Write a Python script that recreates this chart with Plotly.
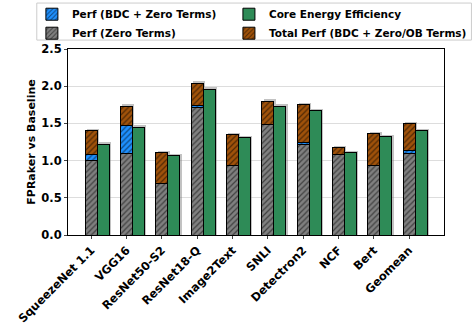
import plotly.graph_objects as go

# Benchmarks and measured speedups / efficiency relative to baseline
models = ["SqueezeNet 1.1", "VGG16", "ResNet50-S2", "ResNet18-Q", "Image2Text",
          "SNLI", "Detectron2", "NCF", "Bert", "Geomean"]
perf_zero = [1.00, 1.10, 0.69, 1.72, 0.94, 1.49, 1.21, 1.08, 0.93, 1.09]
perf_bdc_zero = [1.08, 1.475, 0.69, 1.74, 0.94, 1.49, 1.25, 1.08, 0.93, 1.14]
perf_total = [1.40, 1.73, 1.11, 2.04, 1.35, 1.80, 1.755, 1.17, 1.36, 1.50]
energy_eff = [1.22, 1.45, 1.07, 1.96, 1.31, 1.73, 1.67, 1.11, 1.32, 1.40]

x_pos = list(range(len(models)))
bar_w = 0.34
x_green = [x + bar_w for x in x_pos]

bdc_extra = [b - z for b, z in zip(perf_bdc_zero, perf_zero)]
total_extra = [t - b for t, b in zip(perf_total, perf_bdc_zero)]

FONT = "DejaVu Sans"
outline = dict(color="black", width=1)

# soft drop shadow behind every bar (small offset right and up)
SH_DX, SH_DY = 0.05, 0.025


def hatched(color):
    return dict(color=color, line=outline,
                pattern=dict(shape="/", fgcolor="black", bgcolor=color,
                             size=4, solidity=0.3, fillmode="overlay"))


fig = go.Figure()
fig.add_trace(go.Bar(x=[x + SH_DX for x in x_pos] + [x + SH_DX for x in x_green],
                     y=[v + SH_DY for v in perf_total + energy_eff], width=bar_w,
                     marker=dict(color="rgba(120,120,120,0.45)", line=dict(width=0)),
                     showlegend=False, hoverinfo="skip"))
fig.add_trace(go.Bar(x=x_pos, y=perf_zero, width=bar_w, name="Perf (Zero Terms)",
                     marker=hatched("#808080"), legend="legend", legendrank=2))
fig.add_trace(go.Bar(x=x_pos, y=bdc_extra, width=bar_w, name="Perf (BDC + Zero Terms)",
                     marker=hatched("#1e90ff"), legend="legend", legendrank=1))
fig.add_trace(go.Bar(x=x_pos, y=total_extra, width=bar_w,
                     name="Total Perf (BDC + Zero/OB Terms)",
                     marker=hatched("#a0520a"), legend="legend2", legendrank=2))
fig.add_trace(go.Bar(x=x_green, y=energy_eff, width=bar_w, name="Core Energy Efficiency",
                     marker=dict(color="#2e8b57", line=outline),
                     legend="legend2", legendrank=1))

legend_common = dict(orientation="v", yanchor="top", y=1.265, xanchor="left",
                     font=dict(family=FONT, size=10.5, weight="bold"),
                     bgcolor="rgba(0,0,0,0)", borderwidth=0,
                     itemwidth=30, traceorder="normal", tracegroupgap=0)

fig.update_layout(
    width=473, height=324,
    margin=dict(l=68, r=29, t=49, b=89, autoexpand=False),
    barmode="stack",
    plot_bgcolor="white", paper_bgcolor="white",
    font=dict(family=FONT, color="black", size=12),
    showlegend=True,
    legend=dict(x=-0.096, **legend_common),
    legend2=dict(x=0.428, **legend_common),
    # frame around the two legend columns
    shapes=[dict(type="rect", xref="paper", yref="paper",
                 x0=-0.083, x1=1.073, y0=1.048, y1=1.247,
                 line=dict(color="#cccccc", width=1), fillcolor="white", layer="below")],
    xaxis=dict(range=[-0.66, 9.99], tickmode="array", tickvals=x_pos, ticktext=models,
               tickangle=-45, tickfont=dict(family=FONT, size=11.5, weight="bold"),
               ticks="outside", ticklen=3, showgrid=False, zeroline=False,
               showline=True, linecolor="black", linewidth=1, mirror=True),
    yaxis=dict(range=[0, 2.5], dtick=0.5, tickformat=".1f",
               tickfont=dict(family=FONT, size=11.5, weight="bold"),
               ticks="outside", ticklen=3, showgrid=True, gridcolor="#dddddd",
               zeroline=False, showline=True, linecolor="black", linewidth=1, mirror=True,
               title=dict(text="FPRaker vs Baseline", standoff=3,
                          font=dict(family=FONT, size=11, weight="bold"))),
)

fig.write_html("out.html")
